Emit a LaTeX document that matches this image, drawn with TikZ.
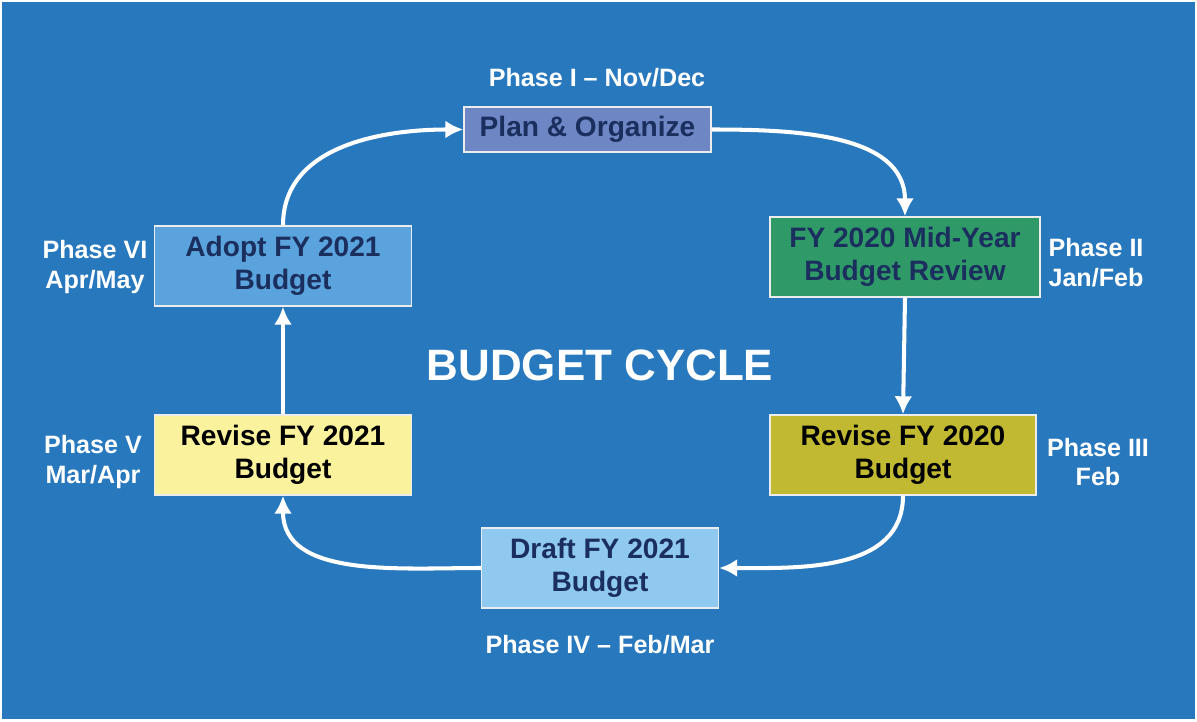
\documentclass[tikz,border=0pt]{standalone}
\usepackage{fontspec}
\setmainfont{Liberation Sans}
\usetikzlibrary{arrows.meta}

\definecolor{bgblue}{HTML}{2878BE}
\definecolor{navy}{HTML}{1B2F5E}
\definecolor{planfill}{HTML}{6F86C4}
\definecolor{midfill}{HTML}{2F9A68}
\definecolor{rev20fill}{HTML}{C1B932}
\definecolor{draftfill}{HTML}{8FC9EF}
\definecolor{rev21fill}{HTML}{FAF29C}
\definecolor{adoptfill}{HTML}{5AA3DC}

\begin{document}
\begin{tikzpicture}[x=0.02cm,y=-0.02cm,
  phase/.style={draw=white!85!gray,line width=0.8pt,minimum height=1.6cm,align=center,font=\fontsize{16}{19}\selectfont\bfseries,inner sep=0pt},
  when/.style={text=white,align=center,font=\fontsize{14.3}{17}\selectfont\bfseries},
  flow/.style={draw=white,line width=2.3pt,-{Latex[length=3.6mm,width=3.6mm]}}]
% page
\fill[white] (0,0) rectangle (1197,721);
\fill[bgblue] (2,2) rectangle (1195,719);

% the six phases, clockwise from the top
\node[phase,fill=planfill,text=navy,minimum width=4.94cm,minimum height=0.9cm] (plan) at (587.5,129.5) {Plan \& Organize};
\node[phase,fill=midfill,text=navy,minimum width=5.4cm] (midyear) at (905,257) {FY 2020 Mid-Year\\Budget Review};
\node[phase,fill=rev20fill,text=black,minimum width=5.32cm] (revise20) at (903,455) {Revise FY 2020\\Budget};
\node[phase,fill=draftfill,text=navy,minimum width=4.74cm] (draft) at (600,568) {Draft FY 2021\\Budget};
\node[phase,fill=rev21fill,text=black,minimum width=5.14cm] (revise21) at (283,455) {Revise FY 2021\\Budget};
\node[phase,fill=adoptfill,text=navy,minimum width=5.14cm] (adopt) at (283,266) {Adopt FY 2021\\Budget};

\node[when] (plantime) at (597,78) {Phase I -- Nov/Dec};
\node[when] (midtime) at (1096,263) {Phase II\\Jan/Feb};
\node[when] (rev20time) at (1098,462) {Phase III\\Feb};
\node[when] (drafttime) at (600,645) {Phase IV -- Feb/Mar};
\node[when] (rev21time) at (93,462) {Phase V\\Mar/Apr};
\node[when] (adopttime) at (95,267) {Phase VI\\Apr/May};

\node[text=white,font=\fontsize{25}{30}\selectfont\bfseries] (title) at (600,365) {BUDGET CYCLE};

% arrows
\draw[flow] (plan.east) to[out=0,in=90] (midyear.north);
\draw[flow] (midyear.south) -- (revise20.north);
\draw[flow] (revise20.south) to[out=-90,in=0] (draft.east);
\draw[flow] (draft.west) to[out=180,in=-90] (revise21.south);
\draw[flow] (revise21.north) -- (adopt.south);
\draw[flow] (adopt.north) to[out=90,in=180] (plan.west);

\end{tikzpicture}
\end{document}
